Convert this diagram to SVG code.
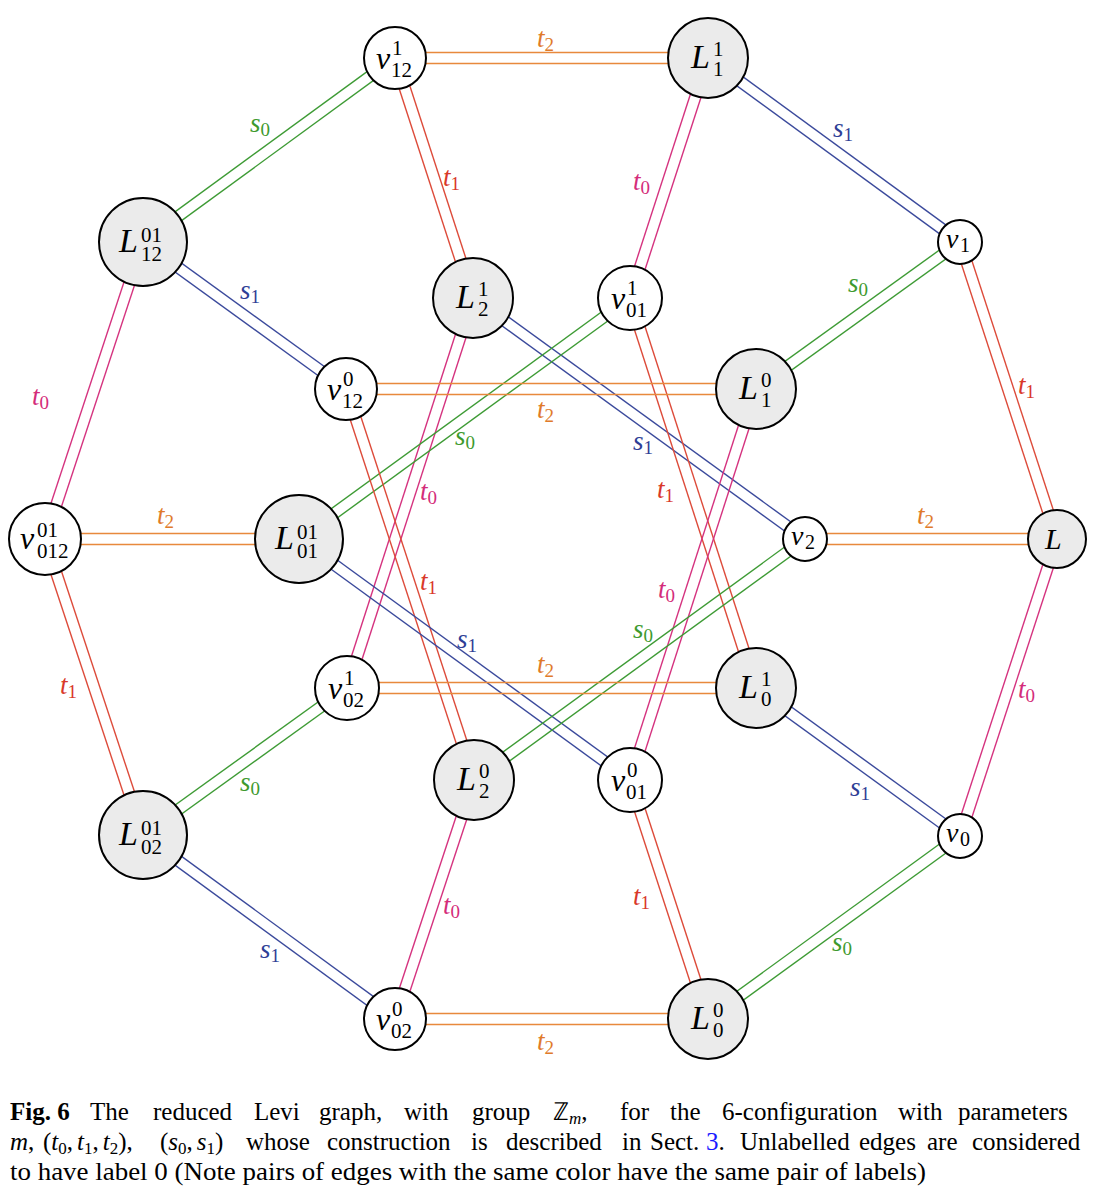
<svg xmlns="http://www.w3.org/2000/svg" width="1101" height="1200" viewBox="0 0 1101 1200">
<style>
.e line{stroke-width:1.4;fill:none}
.or line{stroke:#E8893C}.gr line{stroke:#3E9B35}.rd line{stroke:#DD4B3A}.bl line{stroke:#3B4A9C}.mg line{stroke:#D5337F}
.nd circle{stroke:#000;stroke-width:2}
.g circle{fill:#EBEBEB}.w circle{fill:#fff}
text{font-family:"Liberation Serif","Times New Roman",serif;fill:#000}
.it{font-style:italic}
.v{font-size:32px;font-style:italic}
.vs{font-size:28px;font-style:italic}
.L{font-size:34px;font-style:italic}
.sc{font-size:21px}
.scs{font-size:20px}
.lb{font-size:27px;font-style:italic}
.lb tspan{font-size:19px;font-style:normal}
.cor{fill:#E07A2A}.cgr{fill:#3E9A2E}.crd{fill:#D9382A}.cbl{fill:#2F3E96}.cmg{fill:#D42C7A}
.cap{font-size:25px}
.cap .s{font-size:17px}
</style>
<g id="connectors">
<g class="e or"><line x1="395" y1="52.5" x2="708" y2="52.5"/><line x1="395" y1="63.5" x2="708" y2="63.5"/></g>
<g class="e gr"><line x1="391.76" y1="53.56" x2="139.76" y2="237.56"/><line x1="398.24" y1="62.44" x2="146.24" y2="246.44"/></g>
<g class="e rd"><line x1="389.77" y1="59.7" x2="467.77" y2="299.7"/><line x1="400.23" y1="56.3" x2="478.23" y2="296.3"/></g>
<g class="e bl"><line x1="704.76" y1="62.44" x2="956.76" y2="246.44"/><line x1="711.24" y1="53.56" x2="963.24" y2="237.56"/></g>
<g class="e mg"><line x1="702.77" y1="56.3" x2="624.77" y2="296.3"/><line x1="713.23" y1="59.7" x2="635.23" y2="299.7"/></g>
<g class="e mg"><line x1="137.78" y1="240.28" x2="39.78" y2="537.28"/><line x1="148.22" y1="243.72" x2="50.22" y2="540.72"/></g>
<g class="e bl"><line x1="139.77" y1="246.46" x2="342.77" y2="393.46"/><line x1="146.23" y1="237.54" x2="349.23" y2="384.54"/></g>
<g class="e gr"><line x1="956.78" y1="237.54" x2="752.78" y2="384.54"/><line x1="963.22" y1="246.46" x2="759.22" y2="393.46"/></g>
<g class="e rd"><line x1="954.77" y1="243.71" x2="1051.77" y2="540.71"/><line x1="965.23" y1="240.29" x2="1062.23" y2="537.29"/></g>
<g class="e bl"><line x1="469.77" y1="302.45" x2="801.77" y2="543.45"/><line x1="476.23" y1="293.55" x2="808.23" y2="534.55"/></g>
<g class="e mg"><line x1="467.77" y1="296.31" x2="341.77" y2="686.31"/><line x1="478.23" y1="299.69" x2="352.23" y2="689.69"/></g>
<g class="e gr"><line x1="626.76" y1="293.55" x2="295.76" y2="534.55"/><line x1="633.24" y1="302.45" x2="302.24" y2="543.45"/></g>
<g class="e rd"><line x1="624.77" y1="299.69" x2="750.77" y2="689.69"/><line x1="635.23" y1="296.31" x2="761.23" y2="686.31"/></g>
<g class="e or"><line x1="346" y1="383.5" x2="756" y2="383.5"/><line x1="346" y1="394.5" x2="756" y2="394.5"/></g>
<g class="e rd"><line x1="340.77" y1="390.71" x2="468.77" y2="781.71"/><line x1="351.23" y1="387.29" x2="479.23" y2="778.29"/></g>
<g class="e mg"><line x1="750.77" y1="387.31" x2="624.77" y2="778.31"/><line x1="761.23" y1="390.69" x2="635.23" y2="781.69"/></g>
<g class="e or"><line x1="45" y1="533.5" x2="299" y2="533.5"/><line x1="45" y1="544.5" x2="299" y2="544.5"/></g>
<g class="e rd"><line x1="39.78" y1="540.73" x2="137.78" y2="836.73"/><line x1="50.22" y1="537.27" x2="148.22" y2="833.27"/></g>
<g class="e bl"><line x1="295.76" y1="543.45" x2="626.76" y2="784.45"/><line x1="302.24" y1="534.55" x2="633.24" y2="775.55"/></g>
<g class="e or"><line x1="805" y1="533.5" x2="1057" y2="533.5"/><line x1="805" y1="544.5" x2="1057" y2="544.5"/></g>
<g class="e gr"><line x1="801.76" y1="534.55" x2="470.76" y2="775.55"/><line x1="808.24" y1="543.45" x2="477.24" y2="784.45"/></g>
<g class="e mg"><line x1="1051.77" y1="537.29" x2="954.77" y2="834.29"/><line x1="1062.23" y1="540.71" x2="965.23" y2="837.71"/></g>
<g class="e or"><line x1="347" y1="682.5" x2="756" y2="682.5"/><line x1="347" y1="693.5" x2="756" y2="693.5"/></g>
<g class="e gr"><line x1="343.78" y1="683.54" x2="139.78" y2="830.54"/><line x1="350.22" y1="692.46" x2="146.22" y2="839.46"/></g>
<g class="e bl"><line x1="752.77" y1="692.45" x2="956.77" y2="840.45"/><line x1="759.23" y1="683.55" x2="963.23" y2="831.55"/></g>
<g class="e mg"><line x1="468.78" y1="778.27" x2="389.78" y2="1017.27"/><line x1="479.22" y1="781.73" x2="400.22" y2="1020.73"/></g>
<g class="e rd"><line x1="624.77" y1="781.71" x2="702.77" y2="1020.71"/><line x1="635.23" y1="778.29" x2="713.23" y2="1017.29"/></g>
<g class="e bl"><line x1="139.76" y1="839.44" x2="391.76" y2="1023.44"/><line x1="146.24" y1="830.56" x2="398.24" y2="1014.56"/></g>
<g class="e gr"><line x1="956.77" y1="831.55" x2="704.77" y2="1014.55"/><line x1="963.23" y1="840.45" x2="711.23" y2="1023.45"/></g>
<g class="e or"><line x1="395" y1="1013.5" x2="708" y2="1013.5"/><line x1="395" y1="1024.5" x2="708" y2="1024.5"/></g>
</g>
<g id="edge-labels">
<text class="lb cor" x="537" y="47">t<tspan dy="4">2</tspan></text>
<text class="lb cgr" x="250" y="132">s<tspan dy="4">0</tspan></text>
<text class="lb crd" x="443" y="186">t<tspan dy="4">1</tspan></text>
<text class="lb cbl" x="833" y="137">s<tspan dy="4">1</tspan></text>
<text class="lb cmg" x="633" y="190">t<tspan dy="4">0</tspan></text>
<text class="lb cbl" x="240" y="299">s<tspan dy="4">1</tspan></text>
<text class="lb cmg" x="32" y="405">t<tspan dy="4">0</tspan></text>
<text class="lb cgr" x="848" y="292">s<tspan dy="4">0</tspan></text>
<text class="lb crd" x="1018" y="394">t<tspan dy="4">1</tspan></text>
<text class="lb cor" x="537" y="418">t<tspan dy="4">2</tspan></text>
<text class="lb cgr" x="455" y="445">s<tspan dy="4">0</tspan></text>
<text class="lb cbl" x="633" y="450">s<tspan dy="4">1</tspan></text>
<text class="lb cmg" x="420" y="500">t<tspan dy="4">0</tspan></text>
<text class="lb crd" x="657" y="498">t<tspan dy="4">1</tspan></text>
<text class="lb cor" x="157" y="524">t<tspan dy="4">2</tspan></text>
<text class="lb cor" x="917" y="524">t<tspan dy="4">2</tspan></text>
<text class="lb crd" x="420" y="590">t<tspan dy="4">1</tspan></text>
<text class="lb cmg" x="658" y="598">t<tspan dy="4">0</tspan></text>
<text class="lb cgr" x="633" y="638">s<tspan dy="4">0</tspan></text>
<text class="lb cbl" x="457" y="648">s<tspan dy="4">1</tspan></text>
<text class="lb cor" x="537" y="673">t<tspan dy="4">2</tspan></text>
<text class="lb crd" x="60" y="694">t<tspan dy="4">1</tspan></text>
<text class="lb cmg" x="1018" y="698">t<tspan dy="4">0</tspan></text>
<text class="lb cgr" x="240" y="791">s<tspan dy="4">0</tspan></text>
<text class="lb cbl" x="850" y="796">s<tspan dy="4">1</tspan></text>
<text class="lb cmg" x="443" y="914">t<tspan dy="4">0</tspan></text>
<text class="lb crd" x="633" y="905">t<tspan dy="4">1</tspan></text>
<text class="lb cbl" x="260" y="958">s<tspan dy="4">1</tspan></text>
<text class="lb cgr" x="832" y="951">s<tspan dy="4">0</tspan></text>
<text class="lb cor" x="537" y="1050">t<tspan dy="4">2</tspan></text>
</g>
<g id="v12_1" class="nd w"><circle cx="395" cy="58" r="31"/><text class="v" x="376" y="69">v</text><text class="sc" x="392" y="55">1</text><text class="sc" x="391" y="77">12</text></g>
<g id="L1_1" class="nd g"><circle cx="708" cy="58" r="40"/><text class="L" x="691" y="68">L</text><text class="sc" x="713" y="56">1</text><text class="sc" x="713" y="76">1</text></g>
<g id="L12_01" class="nd g"><circle cx="143" cy="242" r="44"/><text class="L" x="119" y="252">L</text><text class="sc" x="141" y="242">01</text><text class="sc" x="141" y="261">12</text></g>
<g id="v1" class="nd w"><circle cx="960" cy="242" r="22"/><text class="vs" x="946" y="248">v</text><text class="scs" x="960" y="252">1</text></g>
<g id="L2_1" class="nd g"><circle cx="473" cy="298" r="40"/><text class="L" x="456" y="308">L</text><text class="sc" x="478" y="296">1</text><text class="sc" x="478" y="316">2</text></g>
<g id="v01_1" class="nd w"><circle cx="630" cy="298" r="32"/><text class="v" x="611" y="309">v</text><text class="sc" x="627" y="295">1</text><text class="sc" x="626" y="317">01</text></g>
<g id="v12_0" class="nd w"><circle cx="346" cy="389" r="31"/><text class="v" x="327" y="400">v</text><text class="sc" x="343" y="386">0</text><text class="sc" x="342" y="408">12</text></g>
<g id="L1_0" class="nd g"><circle cx="756" cy="389" r="40"/><text class="L" x="739" y="399">L</text><text class="sc" x="761" y="387">0</text><text class="sc" x="761" y="407">1</text></g>
<g id="v012_01" class="nd w"><circle cx="45" cy="539" r="36"/><text class="v" x="20" y="549">v</text><text class="sc" x="37" y="537">01</text><text class="sc" x="37" y="558">012</text></g>
<g id="L01_01" class="nd g"><circle cx="299" cy="539" r="44"/><text class="L" x="275" y="549">L</text><text class="sc" x="297" y="539">01</text><text class="sc" x="297" y="558">01</text></g>
<g id="v2" class="nd w"><circle cx="805" cy="539" r="22"/><text class="vs" x="791" y="545">v</text><text class="scs" x="805" y="549">2</text></g>
<g id="L" class="nd g"><circle cx="1057" cy="539" r="29"/><text class="L" x="1045" y="549" style="font-size:30px">L</text></g>
<g id="v02_1" class="nd w"><circle cx="347" cy="688" r="32"/><text class="v" x="328" y="699">v</text><text class="sc" x="344" y="685">1</text><text class="sc" x="343" y="707">02</text></g>
<g id="L0_1" class="nd g"><circle cx="756" cy="688" r="40"/><text class="L" x="739" y="698">L</text><text class="sc" x="761" y="686">1</text><text class="sc" x="761" y="706">0</text></g>
<g id="L2_0" class="nd g"><circle cx="474" cy="780" r="40"/><text class="L" x="457" y="790">L</text><text class="sc" x="479" y="778">0</text><text class="sc" x="479" y="798">2</text></g>
<g id="v01_0" class="nd w"><circle cx="630" cy="780" r="32"/><text class="v" x="611" y="791">v</text><text class="sc" x="627" y="777">0</text><text class="sc" x="626" y="799">01</text></g>
<g id="L02_01" class="nd g"><circle cx="143" cy="835" r="44"/><text class="L" x="119" y="845">L</text><text class="sc" x="141" y="835">01</text><text class="sc" x="141" y="854">02</text></g>
<g id="v0" class="nd w"><circle cx="960" cy="836" r="22"/><text class="vs" x="946" y="842">v</text><text class="scs" x="960" y="846">0</text></g>
<g id="v02_0" class="nd w"><circle cx="395" cy="1019" r="31"/><text class="v" x="376" y="1030">v</text><text class="sc" x="392" y="1016">0</text><text class="sc" x="391" y="1038">02</text></g>
<g id="L0_0" class="nd g"><circle cx="708" cy="1019" r="40"/><text class="L" x="691" y="1029">L</text><text class="sc" x="713" y="1017">0</text><text class="sc" x="713" y="1037">0</text></g>
<g id="caption">
<text class="cap" y="1120"><tspan x="10" font-weight="bold">Fig. 6</tspan><tspan x="90">The</tspan><tspan x="153">reduced</tspan><tspan x="254">Levi</tspan><tspan x="319">graph,</tspan><tspan x="404">with</tspan><tspan x="472">group</tspan><tspan x="553">ℤ</tspan><tspan class="it s" dy="4">m</tspan><tspan dy="-4">,</tspan><tspan x="620">for</tspan><tspan x="670">the</tspan><tspan x="722">6-configuration</tspan><tspan x="898">with</tspan><tspan x="958">parameters</tspan></text>
<text class="cap" y="1150"><tspan x="10" class="it">m</tspan>,<tspan x="43">(</tspan><tspan class="it">t</tspan><tspan class="s" dy="4">0</tspan><tspan dy="-4">,</tspan><tspan class="it" dx="4">t</tspan><tspan class="s" dy="4">1</tspan><tspan dy="-4">,</tspan><tspan class="it" dx="4">t</tspan><tspan class="s" dy="4">2</tspan><tspan dy="-4">),</tspan><tspan x="160">(</tspan><tspan class="it">s</tspan><tspan class="s" dy="4">0</tspan><tspan dy="-4">,</tspan><tspan class="it" dx="4">s</tspan><tspan class="s" dy="4">1</tspan><tspan dy="-4">)</tspan><tspan x="246">whose</tspan><tspan x="327">construction</tspan><tspan x="471">is</tspan><tspan x="506">described</tspan><tspan x="622">in</tspan><tspan x="650">Sect.</tspan><tspan x="706" fill="#1a1aff">3</tspan>.<tspan x="740">Unlabelled</tspan><tspan x="859">edges</tspan><tspan x="927">are</tspan><tspan x="972">considered</tspan></text>
<text class="cap" x="10" y="1180" textLength="916" lengthAdjust="spacingAndGlyphs">to have label 0 (Note pairs of edges with the same color have the same pair of labels)</text>
</g>
</svg>
